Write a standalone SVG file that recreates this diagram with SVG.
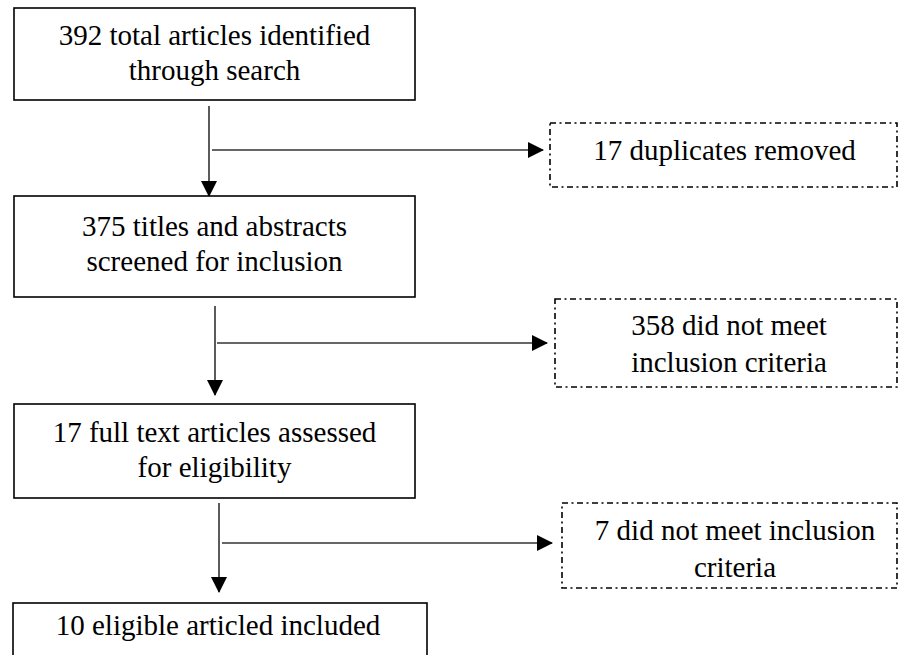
<svg xmlns="http://www.w3.org/2000/svg" width="899" height="655" viewBox="0 0 899 655">
  <style>
    .box { fill: #ffffff; stroke: #000000; stroke-width: 1.6; }
    .dbox { fill: #ffffff; stroke: #000000; stroke-width: 1.6; stroke-dasharray: 6 3.5 2 3.5; }
    .lbl { font-family: 'Liberation Serif', 'Times New Roman', serif; font-size: 29px; fill: #000000; text-anchor: middle; }
    .conn { stroke: #333333; stroke-width: 1.6; fill: none; }
  </style>
  <defs>
    <marker id="arrow" viewBox="0 0 16 16" refX="15" refY="8" markerWidth="16" markerHeight="16" markerUnits="userSpaceOnUse" orient="auto">
      <path d="M0,0 L16,8 L0,16 Z" fill="#000000"/>
    </marker>
  </defs>

  <g id="connectors">
    <line class="conn" x1="209" y1="106" x2="209" y2="196" marker-end="url(#arrow)"/>
    <line class="conn" x1="212" y1="150" x2="543" y2="150" marker-end="url(#arrow)"/>
    <line class="conn" x1="215" y1="306" x2="215" y2="395" marker-end="url(#arrow)"/>
    <line class="conn" x1="217" y1="343" x2="547" y2="343" marker-end="url(#arrow)"/>
    <line class="conn" x1="219" y1="503" x2="219" y2="592" marker-end="url(#arrow)"/>
    <line class="conn" x1="222" y1="543" x2="552" y2="543" marker-end="url(#arrow)"/>
  </g>

  <g id="node-search">
    <rect class="box" x="14" y="8" width="401" height="92"/>
    <text class="lbl" x="214.5" y="45">392 total articles identified</text>
    <text class="lbl" x="214.5" y="80">through search</text>
  </g>

  <g id="node-duplicates">
    <rect class="dbox" x="550" y="123" width="347" height="64"/>
    <text class="lbl" x="724.5" y="160">17 duplicates removed</text>
  </g>

  <g id="node-screened">
    <rect class="box" x="14" y="196" width="401" height="101"/>
    <text class="lbl" x="214.5" y="236">375 titles and abstracts</text>
    <text class="lbl" x="214.5" y="271">screened for inclusion</text>
  </g>

  <g id="node-excluded1">
    <rect class="dbox" x="555" y="299" width="342" height="88"/>
    <text class="lbl" x="729" y="335">358 did not meet</text>
    <text class="lbl" x="729" y="372">inclusion criteria</text>
  </g>

  <g id="node-fulltext">
    <rect class="box" x="14" y="404" width="401" height="94"/>
    <text class="lbl" x="214.5" y="442">17 full text articles assessed</text>
    <text class="lbl" x="214.5" y="477">for eligibility</text>
  </g>

  <g id="node-excluded2">
    <rect class="dbox" x="562" y="503" width="335" height="85"/>
    <text class="lbl" x="735" y="540">7 did not meet inclusion</text>
    <text class="lbl" x="735" y="577">criteria</text>
  </g>

  <g id="node-included">
    <rect class="box" x="13" y="603" width="414" height="60"/>
    <text class="lbl" x="218" y="635">10 eligible articled included</text>
  </g>
</svg>
